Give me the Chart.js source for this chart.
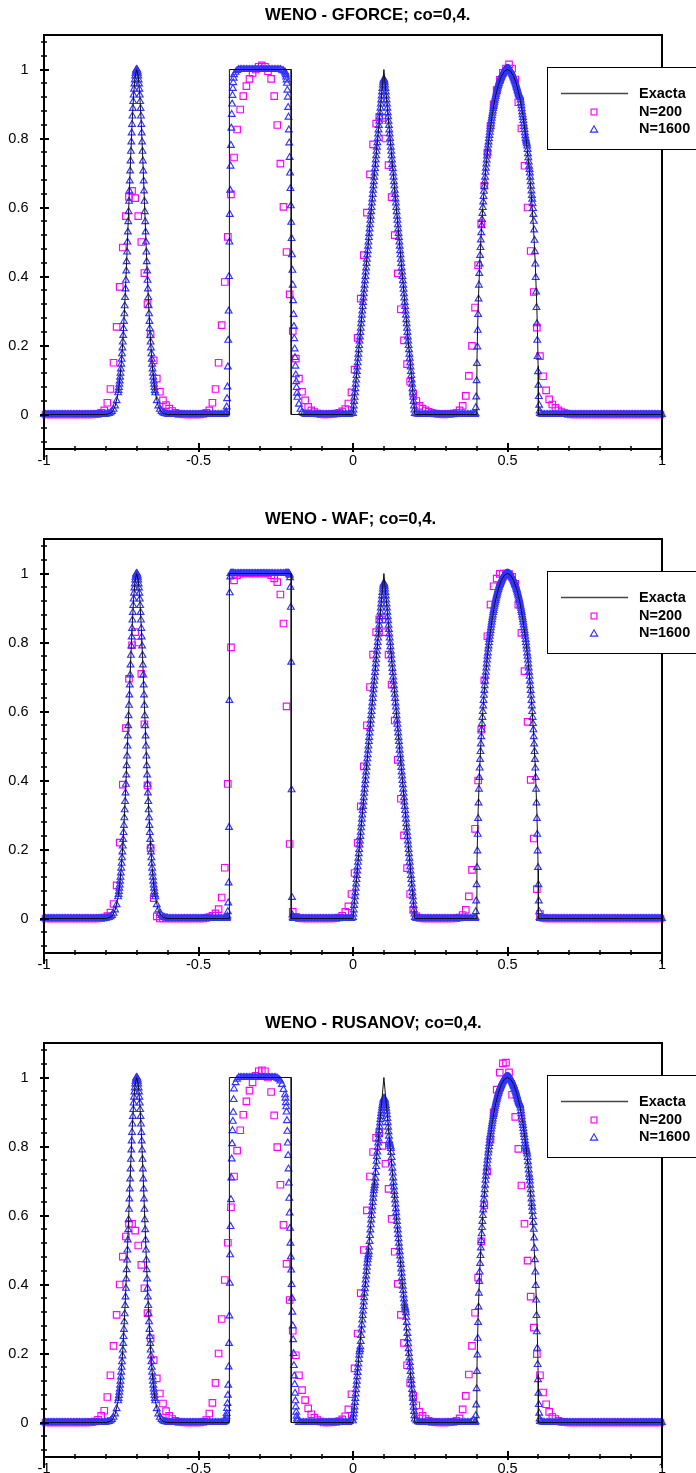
<!DOCTYPE html>
<html>
<head>
<meta charset="utf-8">
<title>WENO</title>
<script src="https://cdn.jsdelivr.net/npm/chart.js@4.4.1/dist/chart.umd.min.js"></script>
<style>
html, body { margin:0; padding:0; background:#fff; }
body { position:relative; width:696px; height:1473px; overflow:hidden; }
.panel { position:absolute; left:0; width:696px; height:504px; }
.panel canvas { display:block; }
</style>
</head>
<body>
<div class="panel" style="top:0px"><canvas id="chart0" width="696" height="504"></canvas></div>
<div class="panel" style="top:504px"><canvas id="chart1" width="696" height="504"></canvas></div>
<div class="panel" style="top:1008px"><canvas id="chart2" width="696" height="504"></canvas></div>
<script>
// ---------------- DATA ----------------
const TITLES = ['WENO - GFORCE; co=0,4.', 'WENO - WAF; co=0,4.', 'WENO - RUSANOV; co=0,4.'];
const SERIES_LABELS = ['Exacta', 'N=200', 'N=1600'];
const X_TICKS = [-1, -0.5, 0, 0.5, 1];
const Y_TICKS = [0, 0.2, 0.4, 0.6, 0.8, 1];
const X_MIN = -1, X_MAX = 1, Y_MIN = -0.1, Y_MAX = 1.1;
const X_MINOR_STEP = 0.1, Y_MINOR_STEP = 0.04;

// exact solution
const EXACT_X = [-1,-0.8,-0.79,-0.78,-0.77,-0.76,-0.755,-0.75,-0.745,-0.74,-0.735,-0.73,-0.725,-0.72,-0.715,-0.71,-0.705,-0.7,-0.695,-0.69,-0.685,-0.68,-0.675,-0.67,-0.665,-0.66,-0.655,-0.65,-0.645,-0.64,-0.63,-0.62,-0.61,-0.6,-0.4,-0.4,-0.2,-0.2,0,0.1,0.2,0.4,0.401,0.402,0.405,0.41,0.415,0.42,0.43,0.44,0.45,0.46,0.47,0.48,0.49,0.5,0.51,0.52,0.53,0.54,0.55,0.56,0.57,0.58,0.585,0.59,0.595,0.598,0.599,0.6,1];
const EXACT_Y = [0,0,0.002,0.007,0.023,0.063,0.097,0.146,0.21,0.292,0.389,0.5,0.618,0.735,0.841,0.926,0.981,1,0.981,0.926,0.841,0.735,0.618,0.5,0.389,0.292,0.21,0.146,0.097,0.063,0.023,0.007,0.002,0,0,1,1,0,0,1,0,0,0.141,0.199,0.312,0.436,0.527,0.6,0.714,0.8,0.866,0.917,0.954,0.98,0.995,1,0.995,0.98,0.954,0.917,0.866,0.8,0.714,0.6,0.527,0.436,0.312,0.199,0.141,0,0];

// N=200 : cell centres x = N200_X0 + i*N200_DX
const N200_X0 = -0.995, N200_DX = 0.01;
const N200_GFORCE = [
0,0,0,0,0,0,0,0,0,0,
0,0,0,0,0,0,0.001,0.002,0.005,0.012,
0.034,0.074,0.15,0.254,0.37,0.484,0.575,0.631,0.648,0.627,
0.575,0.5,0.41,0.32,0.232,0.157,0.104,0.066,0.041,0.027,
0.017,0.01,0.005,0.002,0.001,0,0,0,0,0,
0,0.002,0.005,0.012,0.034,0.074,0.15,0.259,0.384,0.515,
0.638,0.745,0.826,0.884,0.923,0.952,0.973,0.99,1,1.008,
1.012,1.008,0.995,0.973,0.923,0.839,0.727,0.602,0.471,0.348,
0.242,0.162,0.104,0.066,0.041,0.022,0.012,0.007,0.003,0.001,
0,0,0.001,0.002,0.003,0.005,0.009,0.016,0.032,0.064,
0.13,0.222,0.336,0.462,0.585,0.696,0.783,0.843,0.863,0.86,
0.8,0.723,0.63,0.52,0.409,0.305,0.215,0.146,0.095,0.061,
0.039,0.025,0.017,0.012,0.008,0.005,0.003,0.002,0.001,0,
0.001,0.002,0.003,0.005,0.012,0.025,0.054,0.112,0.199,0.31,
0.433,0.554,0.663,0.759,0.837,0.899,0.94,0.97,0.99,1.003,
1.015,1.003,0.971,0.905,0.829,0.721,0.6,0.474,0.355,0.252,
0.169,0.111,0.07,0.044,0.029,0.019,0.012,0.007,0.004,0.002,
0,0,0,0,0,0,0,0,0,0,
0,0,0,0,0,0,0,0,0,0,
0,0,0,0,0,0,0,0,0,0];
const N200_WAF = [
0,0,0,0,0,0,0,0,0,0,
0,0,0,0,0,0,0,0,0.001,0.003,
0.007,0.017,0.042,0.096,0.22,0.388,0.552,0.695,0.792,0.83,
0.8,0.709,0.563,0.386,0.204,0.059,0.006,0,0,0,
0,0,0,0,0,0,0,0,0,0,
0,0,0.002,0.004,0.008,0.015,0.027,0.061,0.147,0.39,
0.786,0.98,0.995,1,1,1,1,1,1,1,
1,1,1,0.995,0.986,0.975,0.939,0.855,0.615,0.216,
0.019,0.005,0.001,0,0,0,0,0,0,0,
0,0,0,0,0.001,0.003,0.008,0.019,0.035,0.071,
0.132,0.219,0.325,0.441,0.56,0.671,0.765,0.83,0.867,0.867,
0.83,0.765,0.678,0.574,0.46,0.347,0.241,0.146,0.071,0.025,
0.006,0.002,0,0,0,0,0,0,0,0,
0,0,0,0.001,0.003,0.01,0.025,0.064,0.141,0.26,
0.4,0.547,0.69,0.818,0.91,0.963,0.985,0.999,1,1,
0.998,0.99,0.97,0.91,0.828,0.717,0.57,0.402,0.232,0.085,
0.013,0.002,0,0,0,0,0,0,0,0,
0,0,0,0,0,0,0,0,0,0,
0,0,0,0,0,0,0,0,0,0,
0,0,0,0,0,0,0,0,0,0];
const N200_RUSANOV = [
0,0,0,0,0,0,0,0,0,0,
0,0,0,0,0,0.001,0.003,0.008,0.019,0.034,
0.074,0.137,0.222,0.312,0.4,0.481,0.539,0.576,0.576,0.556,
0.513,0.457,0.389,0.317,0.244,0.181,0.128,0.084,0.055,0.033,
0.019,0.01,0.005,0.002,0.001,0,0,0,0,0,
0,0.002,0.007,0.026,0.057,0.115,0.2,0.3,0.413,0.521,
0.624,0.713,0.788,0.847,0.892,0.931,0.962,0.986,1.005,1.018,
1.021,1.018,1,0.958,0.89,0.798,0.689,0.573,0.46,0.355,
0.266,0.195,0.137,0.094,0.065,0.041,0.024,0.014,0.007,0.003,
0,0,0,0.001,0.002,0.004,0.009,0.018,0.038,0.082,
0.157,0.258,0.375,0.5,0.615,0.713,0.784,0.825,0.84,0.802,
0.75,0.677,0.59,0.495,0.402,0.312,0.231,0.166,0.115,0.077,
0.05,0.031,0.019,0.01,0.005,0.002,0.001,0,0,0,
0,0.001,0.002,0.005,0.012,0.038,0.077,0.139,0.222,0.318,
0.42,0.525,0.629,0.728,0.82,0.899,0.965,1.014,1.041,1.043,
1.015,0.95,0.886,0.793,0.687,0.576,0.469,0.365,0.275,0.198,
0.137,0.087,0.053,0.031,0.016,0.01,0.005,0.002,0.001,0,
0,0,0,0,0,0,0,0,0,0,
0,0,0,0,0,0,0,0,0,0,
0,0,0,0,0,0,0,0,0,0];

// N=1600 : runs of samples, each run = [x of first sample, spacing, values]
const N1600_GAUSS_L = [
0,0,0,0,0,0,0,0,0,0, 0,0,0,0,0,0,0,0,0,0, 0,0,0,0,0,0,0,0,0,0, 0,0,0,0,0,0,0,0,0,0,
0.001,0.002,0.003,0.005,0.009,0.015,0.025,0.04];
const N1600_GAUSS_C = [
0.063,0.07,0.078,0.088,0.097,0.108,0.12,0.132,0.146,0.16,
0.176,0.193,0.21,0.229,0.249,0.27,0.292,0.315,0.339,0.364,
0.389,0.416,0.443,0.471,0.5,0.529,0.559,0.588,0.618,0.648,
0.677,0.706,0.735,0.763,0.79,0.816,0.841,0.865,0.887,0.907,
0.926,0.943,0.958,0.97,0.981,0.989,0.995,0.999,1,0.999,
0.995,0.989,0.981,0.97,0.958,0.943,0.926,0.907,0.887,0.865,
0.841,0.816,0.79,0.763,0.735,0.706,0.677,0.648,0.618,0.588,
0.559,0.529,0.5,0.471,0.443,0.416,0.389,0.364,0.339,0.315,
0.292,0.27,0.249,0.229,0.21,0.193,0.176,0.16,0.146,0.132,
0.12,0.108,0.097,0.088,0.078,0.07,0.063];
const N1600_GAUSS_R = [
0.04,0.025,0.015,0.009,0.005,0.003,0.002,0.001,
0,0,0,0,0,0,0,0,0,0, 0,0,0,0,0,0,0,0,0,0, 0,0,0,0,0,0,0,0,0,0, 0,0,0,0,0,0];
const N1600_TRI_SMOOTH = [
0.003,0.013,0.025,0.038,0.05,0.063,0.075,0.088,0.1,0.113,
0.125,0.138,0.15,0.163,0.175,0.188,0.2,0.213,0.225,0.238,
0.25,0.263,0.275,0.288,0.3,0.313,0.325,0.338,0.35,0.363,
0.375,0.388,0.4,0.413,0.425,0.438,0.45,0.463,0.475,0.488,
0.5,0.513,0.525,0.538,0.55,0.563,0.575,0.588,0.6,0.613,
0.625,0.638,0.65,0.663,0.675,0.688,0.7,0.713,0.725,0.738,
0.75,0.763,0.775,0.788,0.8,0.813,0.825,0.838,0.85,0.863,
0.875,0.888,0.9,0.912,0.923,0.935,0.945,0.955,0.963,0.969,
0.972,
0.969,0.963,0.955,0.945,0.935,0.923,0.912,0.9,0.888,0.875,
0.863,0.85,0.838,0.825,0.813,0.8,0.788,0.775,0.763,0.75,
0.738,0.725,0.713,0.7,0.688,0.675,0.663,0.65,0.638,0.625,
0.613,0.6,0.588,0.575,0.563,0.55,0.538,0.525,0.513,0.5,
0.488,0.475,0.463,0.45,0.438,0.425,0.413,0.4,0.388,0.375,
0.363,0.35,0.338,0.325,0.313,0.3,0.288,0.275,0.263,0.25,
0.238,0.225,0.213,0.2,0.188,0.175,0.163,0.15,0.138,0.125,
0.113,0.1,0.088,0.075,0.063,0.05,0.038,0.025,0.013,0.003];
const N1600_TRI_RUS = [
0.005,0.015,0.025,0.035,0.045,0.058,0.07,0.083,0.095,0.108,
0.12,0.133,0.145,0.158,0.17,0.183,0.195,0.205,0.212,0.22,
0.235,0.252,0.268,0.283,0.297,0.31,0.323,0.336,0.349,0.362,
0.375,0.388,0.4,0.413,0.425,0.438,0.45,0.462,0.472,0.48,
0.487,0.495,0.508,0.525,0.542,0.558,0.573,0.587,0.6,0.613,
0.625,0.638,0.65,0.662,0.672,0.68,0.687,0.695,0.708,0.725,
0.742,0.757,0.771,0.784,0.797,0.81,0.822,0.834,0.846,0.857,
0.868,0.878,0.887,0.896,0.904,0.912,0.919,0.926,0.932,0.937,
0.94,
0.939,0.936,0.932,0.926,0.919,0.911,0.902,0.892,0.881,0.869,
0.856,0.843,0.83,0.817,0.81,0.805,0.8,0.794,0.783,0.768,
0.752,0.737,0.723,0.709,0.696,0.683,0.67,0.658,0.645,0.633,
0.62,0.608,0.595,0.583,0.57,0.558,0.545,0.533,0.52,0.508,
0.495,0.483,0.47,0.458,0.445,0.433,0.42,0.408,0.395,0.383,
0.37,0.358,0.346,0.338,0.332,0.326,0.318,0.305,0.29,0.274,
0.258,0.243,0.228,0.214,0.2,0.187,0.174,0.161,0.148,0.135,
0.122,0.109,0.096,0.083,0.07,0.057,0.044,0.032,0.02,0.01];
const N1600_ELL_KINK = [
0,0.003,0.02,0.051,0.098,0.148,0.196,0.244,0.29,0.335,
0.375,0.409,0.436,0.461,0.484,0.506,0.527,0.547,0.565,0.583,
0.6,0.616,0.632,0.647,0.661,0.675,0.688,0.702,0.714,0.726,
0.738,0.749,0.76,0.77,0.781,0.79,0.8,0.809,0.818,0.827,
0.835,0.843,0.851,0.859,0.866,0.873,0.88,0.887,0.893,0.899,
0.905,0.911,0.917,0.922,0.927,0.932,0.937,0.941,0.946,0.95,
0.954,0.958,0.961,0.965,0.968,0.971,0.974,0.977,0.98,0.982,
0.985,0.987,0.989,0.991,0.993,0.995,0.997,0.998,0.999,1,
1.001,1.001,1.002,1.002,1.002,
1.002,1.002,1.001,1.001,1,0.999,0.998,0.996,0.994,0.992,
0.99,0.987,0.985,0.982,0.979,0.976,0.973,0.97,0.967,0.964,
0.96,0.956,0.952,0.948,0.944,0.94,0.936,0.932,0.929,0.927,
0.925,0.922,0.918,0.912,0.904,0.895,0.886,0.877,0.869,0.861,
0.852,0.843,0.835,0.826,0.817,0.808,0.8,0.795,0.79,0.785,
0.778,0.768,0.756,0.744,0.732,0.72,0.71,0.7,0.688,0.675,
0.662,0.648,0.635,0.624,0.612,0.597,0.58,0.56,0.535,0.505,
0.472,0.436,0.397,0.355,0.31,0.263,0.215,0.168,0.124,0.085,
0.052,0.027,0.01,0.003];
const N1600_ELL_WAF = [
0,0.003,0.02,0.051,0.098,0.148,0.196,0.244,0.29,0.335,
0.375,0.409,0.436,0.461,0.484,0.506,0.527,0.547,0.565,0.583,
0.6,0.616,0.632,0.647,0.661,0.675,0.688,0.702,0.714,0.726,
0.738,0.749,0.76,0.77,0.781,0.79,0.8,0.809,0.818,0.827,
0.835,0.843,0.851,0.859,0.866,0.873,0.88,0.887,0.893,0.899,
0.905,0.911,0.917,0.922,0.927,0.932,0.937,0.941,0.946,0.95,
0.954,0.958,0.961,0.965,0.968,0.971,0.974,0.977,0.98,0.982,
0.985,0.987,0.989,0.991,0.992,0.994,0.995,0.996,0.997,0.998,
0.999,0.999,1,1,1,
1,1,0.999,0.999,0.998,0.997,0.996,0.995,0.994,0.992,
0.991,0.989,0.987,0.985,0.982,0.98,0.977,0.974,0.971,0.968,
0.965,0.961,0.958,0.954,0.95,0.946,0.941,0.937,0.932,0.927,
0.922,0.917,0.911,0.905,0.899,0.893,0.887,0.88,0.873,0.866,
0.859,0.851,0.843,0.835,0.827,0.818,0.809,0.8,0.79,0.781,
0.77,0.76,0.749,0.738,0.726,0.714,0.702,0.688,0.675,0.661,
0.647,0.632,0.616,0.6,0.583,0.565,0.547,0.527,0.506,0.484,
0.461,0.436,0.409,0.375,0.335,0.29,0.244,0.196,0.148,0.098,
0.051,0.02,0.003,0];

// GFORCE pieces
const GF_SQ_L = [0.001,0.002,0.003,0.005,0.008,0.022,0.046,0.08,0.138,0.215,0.3,0.4,0.5,0.58,0.65,0.72,0.78,0.83,0.87,0.9,0.925,0.945,0.962,0.975,0.985];
const GF_SQ_TOP = [0.992,0.997, 1,1,1,1,1,1,1,1,1,1, 1,1,1,1,1,1,1,1,1,1, 1,1,1,1,1,1,1,1, 0.998,0.996];
const GF_SQ_R = [0.993,0.99,0.985,0.978,0.97,0.96,0.94,0.92,0.89,0.862,0.825,0.787,0.745,0.7,0.655,0.605,0.557,0.51,0.463,0.418,0.375,0.33,0.29,0.255,0.22,0.19,0.165,0.14,0.115,0.095,0.078,0.062,0.05];
const GF_GAP1 = [0.03,0.015,0.007,0.003,0.001, 0,0,0,0,0,0,0,0,0,0, 0,0,0,0,0,0,0,0,0,0, 0,0,0,0,0,0,0,0, 0.001,0.003];
const GF_GAP2 = [0.002,0.001, 0,0,0,0,0,0,0,0,0,0, 0,0,0,0,0,0,0,0,0,0, 0,0,0,0,0,0,0,0,0,0, 0,0,0,0,0, 0.001];
const GF_TAIL = [0.001, 0,0,0,0,0,0,0,0,0,0, 0,0,0,0,0,0,0,0,0,0, 0,0,0,0,0,0,0,0,0,0, 0,0,0,0,0,0,0,0,0,0, 0,0,0,0,0,0,0,0,0,0, 0,0,0,0,0,0,0,0,0,0, 0,0,0,0,0,0,0,0,0,0, 0,0,0,0,0,0,0,0];
// WAF pieces
const WAF_SQ_L = [0,0,0,0,0,0,0.003,0.007,0.02,0.045,0.103,0.264,0.632,0.944,0.99,1,1,1,1,1,1,1,1,1,1];
const WAF_SQ_TOP = [1,1,1,1,1,1,1,1,1,1, 1,1,1,1,1,1,1,1,1,1, 1,1,1,1,1,1,1,1,1,1, 1,1];
const WAF_SQ_R = [1,1,1,1,1,1,1,1,1,1,1,0.998,0.995,0.988,0.96,0.902,0.743,0.373,0.061,0.01,0.003, 0,0,0,0,0,0,0,0,0,0,0,0];
const WAF_GAP1 = [0,0,0,0,0,0,0,0,0,0, 0,0,0,0,0,0,0,0,0,0, 0,0,0,0,0,0,0,0,0,0, 0,0,0,0,0];
const WAF_GAP2 = [0,0,0,0,0,0,0,0,0,0, 0,0,0,0,0,0,0,0,0,0, 0,0,0,0,0,0,0,0,0,0, 0,0,0,0,0,0,0,0];
const WAF_TAIL = [0,0,0,0,0,0,0,0,0,0, 0,0,0,0,0,0,0,0,0,0, 0,0,0,0,0,0,0,0,0,0, 0,0,0,0,0,0,0,0,0,0, 0,0,0,0,0,0,0,0,0,0, 0,0,0,0,0,0,0,0,0,0, 0,0,0,0,0,0,0,0,0,0, 0,0,0,0,0,0,0,0,0];
// RUSANOV pieces
const RUS_SQ_L = [0.002,0.004,0.007,0.012,0.018,0.026,0.041,0.055,0.079,0.108,0.161,0.229,0.309,0.404,0.486,0.568,0.646,0.709,0.764,0.808,0.846,0.873,0.899,0.936,0.967];
const RUS_SQ_TOP = [0.985,0.995, 1,1,1,1,1,1,1,1,1,1, 1,1,1,1,1,1,1,1,1,1, 1,1,1,1,1, 0.998,0.995,0.99,0.98,0.965];
const RUS_SQ_R = [0.95,0.94,0.927,0.915,0.9,0.875,0.844,0.81,0.774,0.735,0.694,0.65,0.607,0.563,0.52,0.48,0.442,0.4,0.36,0.32,0.28,0.24,0.2,0.165,0.135,0.11,0.085,0.063,0.045,0.03,0.018,0.01,0.005];
const RUS_GAP1 = [0,0,0,0,0,0,0,0,0,0, 0,0,0,0,0,0,0,0,0,0, 0,0,0,0,0,0,0,0,0,0, 0,0,0, 0.003,0.01];
const RUS_GAP2 = [0.005,0.002,0.001, 0,0,0,0,0,0,0,0,0,0, 0,0,0,0,0,0,0,0,0,0, 0,0,0,0,0,0,0,0,0,0, 0,0,0, 0.003,0.008];
const RUS_TAIL = [0.002,0.001, 0,0,0,0,0,0,0,0,0,0, 0,0,0,0,0,0,0,0,0,0, 0,0,0,0,0,0,0,0,0,0, 0,0,0,0,0,0,0,0,0,0, 0,0,0,0,0,0,0,0,0,0, 0,0,0,0,0,0,0,0,0,0, 0,0,0,0,0,0,0,0,0,0, 0,0,0,0,0,0,0];

const N1600_GFORCE = [
  [-1, 0.005, N1600_GAUSS_L], [-0.76, 0.00125, N1600_GAUSS_C], [-0.635, 0.005, N1600_GAUSS_R],
  [-0.415, 0.00125, GF_SQ_L], [-0.38, 0.005, GF_SQ_TOP], [-0.22, 0.00125, GF_SQ_R],
  [-0.175, 0.005, GF_GAP1], [0, 0.00125, N1600_TRI_SMOOTH], [0.205, 0.005, GF_GAP2],
  [0.395, 0.00125, N1600_ELL_KINK], [0.61, 0.005, GF_TAIL]];
const N1600_WAF = [
  [-1, 0.005, N1600_GAUSS_L], [-0.76, 0.00125, N1600_GAUSS_C], [-0.635, 0.005, N1600_GAUSS_R],
  [-0.415, 0.00125, WAF_SQ_L], [-0.38, 0.005, WAF_SQ_TOP], [-0.22, 0.00125, WAF_SQ_R],
  [-0.175, 0.005, WAF_GAP1], [0, 0.00125, N1600_TRI_SMOOTH], [0.205, 0.005, WAF_GAP2],
  [0.395, 0.00125, N1600_ELL_WAF], [0.61, 0.005, WAF_TAIL]];
const N1600_RUSANOV = [
  [-1, 0.005, N1600_GAUSS_L], [-0.76, 0.00125, N1600_GAUSS_C], [-0.635, 0.005, N1600_GAUSS_R],
  [-0.415, 0.00125, RUS_SQ_L], [-0.38, 0.005, RUS_SQ_TOP], [-0.22, 0.00125, RUS_SQ_R],
  [-0.175, 0.005, RUS_GAP1], [0, 0.00125, N1600_TRI_RUS], [0.205, 0.005, RUS_GAP2],
  [0.395, 0.00125, N1600_ELL_KINK], [0.61, 0.005, RUS_TAIL]];

const PANELS = [
  { title: TITLES[0], n200: N200_GFORCE, n1600: N1600_GFORCE },
  { title: TITLES[1], n200: N200_WAF, n1600: N1600_WAF },
  { title: TITLES[2], n200: N200_RUSANOV, n1600: N1600_RUSANOV }
];

// ---------------- STYLE ----------------
const FONT_FAMILY = "'Liberation Sans', Arial, Helvetica, sans-serif";
const COLOR_EXACT = '#111111';
const COLOR_N200 = '#ff00ff';
const COLOR_N1600 = '#3333ff';
const R_SQUARE = 4.6, R_TRIANGLE = 3.9;
const MARK_LW = 1.15;
const TITLE_LEFT = 265;
const AXIS_EXT = 11;
const LEG = { left: 547, top: 67, width: 170, height: 82, lineX0: 561, lineX1: 628, markX: 594, textX: 639, rows: [93.5, 112, 129] };

function runsToPoints(runs) {
  const pts = [];
  for (const [x0, dx, vals] of runs) vals.forEach((v, i) => pts.push({ x: x0 + i * dx, y: v }));
  return pts;
}
function n200ToPoints(vals) { return vals.map((v, i) => ({ x: N200_X0 + i * N200_DX, y: v })); }
const exactPoints = EXACT_X.map((x, i) => ({ x, y: EXACT_Y[i] }));

function strokeSquare(ctx, x, y, r) { const s = r * Math.SQRT1_2; ctx.strokeRect(x - s, y - s, 2 * s, 2 * s); }
function strokeTriangle(ctx, x, y, r) {
  ctx.beginPath();
  let a = 0;
  ctx.moveTo(x + Math.sin(a) * r, y - Math.cos(a) * r);
  a += 2 * Math.PI / 3; ctx.lineTo(x + Math.sin(a) * r, y - Math.cos(a) * r);
  a += 2 * Math.PI / 3; ctx.lineTo(x + Math.sin(a) * r, y - Math.cos(a) * r);
  ctx.closePath(); ctx.stroke();
}

const decorPlugin = {
  id: 'decor',
  afterLayout(chart) {
    const tb = chart.titleBlock;
    if (tb) { const w = tb.right - tb.left; tb.left = TITLE_LEFT; tb.right = TITLE_LEFT + w; }
  },
  afterDatasetsDraw(chart) {
    const { ctx, chartArea: a } = chart;
    const xs = chart.scales.x, ys = chart.scales.y;
    ctx.save();
    ctx.strokeStyle = '#000';
    ctx.lineWidth = 2;
    ctx.beginPath();
    ctx.moveTo(a.left - 1, a.top); ctx.lineTo(a.right + 1, a.top);
    ctx.moveTo(a.left - 1, a.bottom); ctx.lineTo(a.right + 1, a.bottom);
    ctx.moveTo(a.left, a.top); ctx.lineTo(a.left, a.bottom + AXIS_EXT);
    ctx.moveTo(a.right, a.top); ctx.lineTo(a.right, a.bottom + AXIS_EXT);
    ctx.stroke();
    ctx.beginPath();
    for (const v of Y_TICKS) { const p = Math.round(ys.getPixelForValue(v)); ctx.moveTo(a.left - 4, p); ctx.lineTo(a.left + 5, p); }
    for (const v of X_TICKS) { const p = Math.round(xs.getPixelForValue(v)); ctx.moveTo(p, a.bottom - 6); ctx.lineTo(p, a.bottom + 3); }
    ctx.stroke();
    ctx.lineWidth = 1.5;
    ctx.beginPath();
    for (let k = Math.ceil(Y_MIN / Y_MINOR_STEP - 1e-9); k <= Math.floor(Y_MAX / Y_MINOR_STEP + 1e-9); k++) {
      const v = k * Y_MINOR_STEP;
      if (Y_TICKS.some(t => Math.abs(t - v) < 1e-6) || Math.abs(v / 0.2 - Math.round(v / 0.2)) < 1e-6) continue;
      const p = Math.round(ys.getPixelForValue(v));
      ctx.moveTo(a.left - 3, p); ctx.lineTo(a.left + 3, p);
    }
    for (let k = Math.ceil(X_MIN / X_MINOR_STEP - 1e-9); k <= Math.floor(X_MAX / X_MINOR_STEP + 1e-9); k++) {
      const v = k * X_MINOR_STEP;
      if (X_TICKS.some(t => Math.abs(t - v) < 1e-6)) continue;
      const p = Math.round(xs.getPixelForValue(v));
      ctx.moveTo(p, a.bottom - 3); ctx.lineTo(p, a.bottom + 2);
    }
    ctx.stroke();
    ctx.restore();
  },
  afterDraw(chart) {
    const { ctx } = chart;
    const ds = chart.data.datasets;
    ctx.save();
    ctx.fillStyle = '#fff';
    ctx.fillRect(LEG.left, LEG.top, LEG.width, LEG.height);
    ctx.strokeStyle = '#000'; ctx.lineWidth = 1;
    ctx.strokeRect(LEG.left + 0.5, LEG.top + 0.5, LEG.width, LEG.height);
    ctx.strokeStyle = '#444'; ctx.lineWidth = 1.5;
    ctx.beginPath(); ctx.moveTo(LEG.lineX0, LEG.rows[0]); ctx.lineTo(LEG.lineX1, LEG.rows[0]); ctx.stroke();
    ctx.lineWidth = MARK_LW;
    ctx.strokeStyle = COLOR_N200; strokeSquare(ctx, LEG.markX, LEG.rows[1], 4.1);
    ctx.strokeStyle = COLOR_N1600; strokeTriangle(ctx, LEG.markX, LEG.rows[2] + 1, 4.2);
    ctx.fillStyle = '#000';
    ctx.font = 'bold 14.5px ' + FONT_FAMILY;
    ctx.textBaseline = 'middle'; ctx.textAlign = 'left';
    ds.forEach((d, i) => ctx.fillText(d.label, LEG.textX, LEG.rows[i]));
    ctx.restore();
  }
};

PANELS.forEach((panel, idx) => {
  const ctx = document.getElementById('chart' + idx).getContext('2d');
  new Chart(ctx, {
    type: 'scatter',
    data: {
      datasets: [
        { label: SERIES_LABELS[0], data: exactPoints, showLine: true, borderColor: COLOR_EXACT, borderWidth: 1,
          pointRadius: 0, pointHoverRadius: 0, tension: 0, order: 0, clip: false },
        { label: SERIES_LABELS[1], data: n200ToPoints(panel.n200), showLine: false, pointStyle: 'rect',
          pointRadius: R_SQUARE, pointHoverRadius: R_SQUARE, pointBorderWidth: MARK_LW, pointBorderColor: COLOR_N200,
          pointBackgroundColor: 'rgba(0,0,0,0)', borderColor: COLOR_N200, backgroundColor: 'rgba(0,0,0,0)', order: 2, clip: false },
        { label: SERIES_LABELS[2], data: runsToPoints(panel.n1600), showLine: false, pointStyle: 'triangle',
          pointRadius: R_TRIANGLE, pointHoverRadius: R_TRIANGLE, pointBorderWidth: MARK_LW, pointBorderColor: COLOR_N1600,
          pointBackgroundColor: 'rgba(0,0,0,0)', borderColor: COLOR_N1600, backgroundColor: 'rgba(0,0,0,0)', order: 1, clip: false }
      ]
    },
    options: {
      responsive: false,
      animation: false,
      devicePixelRatio: 1,
      events: [],
      layout: { padding: { left: 0, right: 34, top: 0, bottom: 0 } },
      plugins: {
        legend: { display: false },
        tooltip: { enabled: false },
        title: { display: true, text: panel.title, align: 'start', color: '#000',
          font: { family: FONT_FAMILY, size: 16.7, weight: 'bold', lineHeight: '20px' },
          padding: { top: 5, bottom: 10 } }
      },
      scales: {
        x: {
          type: 'linear', min: X_MIN, max: X_MAX,
          afterBuildTicks: s => { s.ticks = X_TICKS.map(v => ({ value: v })); },
          afterFit: s => { s.height = 55; },
          grid: { display: false }, border: { display: false },
          ticks: { callback: v => String(v), color: '#000', padding: -4.5, maxRotation: 0, autoSkip: false,
            font: { family: FONT_FAMILY, size: 14.5 } }
        },
        y: {
          type: 'linear', min: Y_MIN, max: Y_MAX,
          afterBuildTicks: s => { s.ticks = Y_TICKS.map(v => ({ value: v })); },
          afterFit: s => { s.width = 44; },
          grid: { display: false }, border: { display: false },
          ticks: { callback: v => String(v), color: '#000', padding: 7.5, autoSkip: false,
            font: { family: FONT_FAMILY, size: 14.5 } }
        }
      }
    },
    plugins: [decorPlugin]
  });
});
</script>
</body>
</html>
